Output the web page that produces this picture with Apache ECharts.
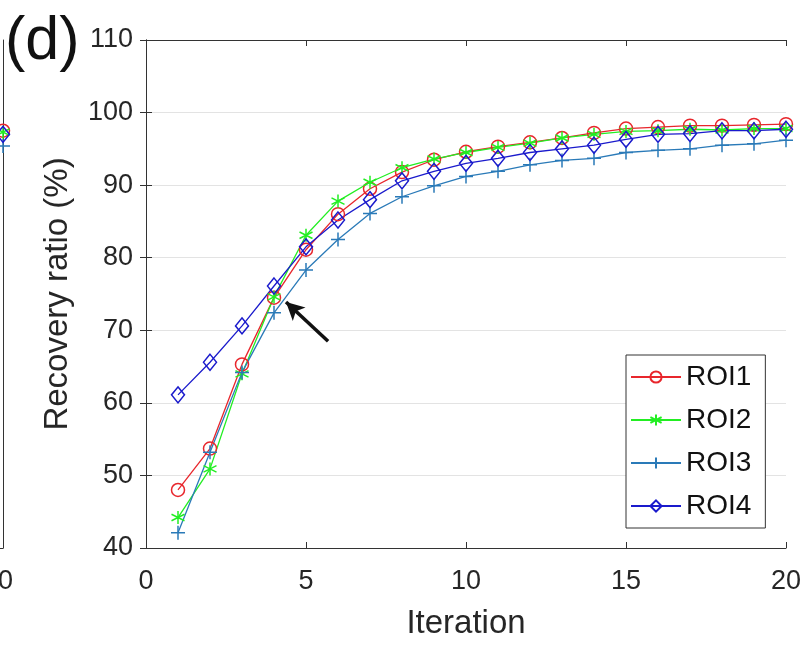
<!DOCTYPE html>
<html>
<head>
<meta charset="utf-8">
<script src="https://cdn.jsdelivr.net/npm/echarts@6/dist/echarts.min.js"></script>
<style>html,body{margin:0;padding:0;background:#fff}#c{width:809px;height:645px}</style>
</head>
<body>
<div id="c"></div>
<script>
var iterations = [1,2,3,4,5,6,7,8,9,10,11,12,13,14,15,16,17,18,19,20];
var roi1 = [48.0,53.7,65.3,74.5,81.1,86.0,89.5,91.8,93.5,94.6,95.3,95.9,96.5,97.2,97.8,98.0,98.2,98.2,98.3,98.4];
var roi2 = [44.2,50.9,64.0,74.6,83.1,87.8,90.4,92.4,93.6,94.5,95.2,95.8,96.5,97.0,97.4,97.5,97.7,97.6,97.8,97.8];
var roi3 = [42.1,53.2,64.2,72.4,78.3,82.5,86.1,88.4,89.9,91.2,91.9,92.8,93.4,93.7,94.5,94.8,95.0,95.5,95.7,96.2];
var roi4 = [61.1,65.6,70.6,76.1,81.5,85.2,88.0,90.6,91.9,93.0,93.7,94.5,95.0,95.5,96.3,97.0,97.1,97.5,97.5,97.7];
// neighbouring panel (c): only its last points are visible at the left edge
var prevX = [20];
var prevRoi1 = [97.5], prevRoi2 = [97.3], prevRoi3 = [95.4], prevRoi4 = [97.0];
var arrowFrom = [5.69, 68.5], arrowTo = [4.375, 73.9];

var FONT = "'Liberation Sans', Arial, Helvetica, sans-serif";
var AX = '#333333';
var colors = {r:'#e8262c', g:'#22ee22', b3:'#2a7ab8', b4:'#1a1acc'};
var STAR = 'path://M0,-10L0,10M-8.66,-5L8.66,5M-8.66,5L8.66,-5';
var PLUS = 'path://M0,-10L0,10M-10,0L10,0';

function pairs(xs, ys){ return xs.map(function(x,i){ return [x, ys[i]]; }); }

function mkSeries(name, ys, color, symbol, size, xi, yi, xs){
  var hollow = (symbol === STAR || symbol === PLUS) ? 'none' : 'transparent';
  return {
    name: name, type: 'line', xAxisIndex: xi, yAxisIndex: yi,
    data: pairs(xs, ys), symbol: symbol, symbolSize: size,
    showAllSymbol: true, clip: false,
    lineStyle: {color: color, width: 1.3},
    itemStyle: {color: hollow, borderColor: color, borderWidth: 1.5},
    emphasis: {disabled: true}, z: 3
  };
}

var chart = echarts.init(document.getElementById('c'), null, {renderer: 'canvas'});
var s1 = mkSeries('ROI1', roi1, colors.r, 'circle', 13, 0, 0, iterations);
s1.markLine = {
  silent: true, animation: false, symbol: ['none', 'arrow'], symbolSize: [14, 18],
  label: {show: false},
  lineStyle: {color: '#111', width: 3.5, type: 'solid'},
  data: [[{coord: arrowFrom}, {coord: arrowTo}]]
};
var series = [
  s1,
  mkSeries('ROI2', roi2, colors.g, STAR, 13, 0, 0, iterations),
  mkSeries('ROI3', roi3, colors.b3, PLUS, 14, 0, 0, iterations),
  mkSeries('ROI4', roi4, colors.b4, 'diamond', [13,16], 0, 0, iterations),
  mkSeries('c1', prevRoi1, colors.r, 'circle', 13, 2, 2, prevX),
  mkSeries('c2', prevRoi2, colors.g, STAR, 13, 2, 2, prevX),
  mkSeries('c3', prevRoi3, colors.b3, PLUS, 14, 2, 2, prevX),
  mkSeries('c4', prevRoi4, colors.b4, 'diamond', [13,16], 2, 2, prevX)
];

var tickLbl = {fontSize: 27, color: '#262626', fontFamily: FONT};
var option = {
  animation: false,
  backgroundColor: '#ffffff',
  textStyle: {fontFamily: FONT},
  title: {text: '(d)', left: 5, top: 12, padding: 0, textStyle: {fontSize: 61, fontWeight: 'normal', color: '#111', fontFamily: FONT}},
  grid: [
    {left: 146, top: 40, width: 640, height: 508, outerBoundsMode: 'none', containLabel: false},
    {left: 0, top: 40, width: 3, height: 508, outerBoundsMode: 'none', containLabel: false}
  ],
  legend: {
    data: ['ROI1','ROI2','ROI3','ROI4'],
    orient: 'vertical', left: 626, top: 355,
    itemWidth: 50, itemHeight: 14, itemGap: 15,
    padding: [8, 14, 8, 4],
    borderColor: '#333', borderWidth: 1, backgroundColor: '#fff',
    textStyle: {fontSize: 28, color: '#111', fontFamily: FONT, lineHeight: 28},
    selectedMode: false
  },
  xAxis: [
    {type: 'value', gridIndex: 0, min: 0, max: 20, interval: 5, position: 'bottom',
     name: 'Iteration', nameLocation: 'middle', nameGap: 59,
     nameTextStyle: {fontSize: 33, color: '#262626', fontFamily: FONT},
     axisLine: {show: true, lineStyle: {color: AX, width: 1}},
     axisTick: {show: true, inside: true, length: 6, lineStyle: {color: AX}},
     axisLabel: Object.assign({margin: 20, showMinLabel: true, showMaxLabel: true}, tickLbl),
     splitLine: {show: false}},
    {type: 'value', gridIndex: 0, min: 0, max: 20, interval: 5, position: 'top',
     axisLine: {show: true, lineStyle: {color: AX, width: 1}},
     axisTick: {show: true, inside: true, length: 6, lineStyle: {color: AX}},
     axisLabel: {show: false}, splitLine: {show: false}},
    {type: 'value', gridIndex: 1, min: 19, max: 20, interval: 1, position: 'bottom',
     axisLine: {show: true, lineStyle: {color: AX, width: 1}},
     axisTick: {show: false},
     axisLabel: Object.assign({margin: 20, showMinLabel: false, showMaxLabel: true, padding: [0, 10, 0, 0],
       formatter: function(v){ return v === 20 ? '20' : ''; }}, tickLbl),
     splitLine: {show: false}}
  ],
  yAxis: [
    {type: 'value', gridIndex: 0, min: 40, max: 110, interval: 10, position: 'left',
     name: 'Recovery ratio (%)', nameLocation: 'middle', nameGap: 72,
     nameTextStyle: {fontSize: 33, color: '#262626', fontFamily: FONT},
     axisLine: {show: true, lineStyle: {color: AX, width: 1}},
     axisTick: {show: true, inside: true, length: 6, lineStyle: {color: AX}},
     axisLabel: Object.assign({margin: 13, showMinLabel: true, showMaxLabel: true}, tickLbl),
     splitLine: {show: true, lineStyle: {color: '#e3e3e3', width: 1}}},
    {type: 'value', gridIndex: 0, min: 40, max: 110, interval: 10, position: 'right',
     axisLine: {show: true, lineStyle: {color: AX, width: 1}},
     axisTick: {show: true, inside: true, length: 6, lineStyle: {color: AX}},
     axisLabel: {show: false}, splitLine: {show: false}},
    {type: 'value', gridIndex: 1, min: 40, max: 110, interval: 10, position: 'right',
     axisLine: {show: true, lineStyle: {color: AX, width: 1}},
     axisTick: {show: false},
     axisLabel: {show: false}, splitLine: {show: false}}
  ],
  series: series
};
chart.setOption(option);
</script>
</body>
</html>
